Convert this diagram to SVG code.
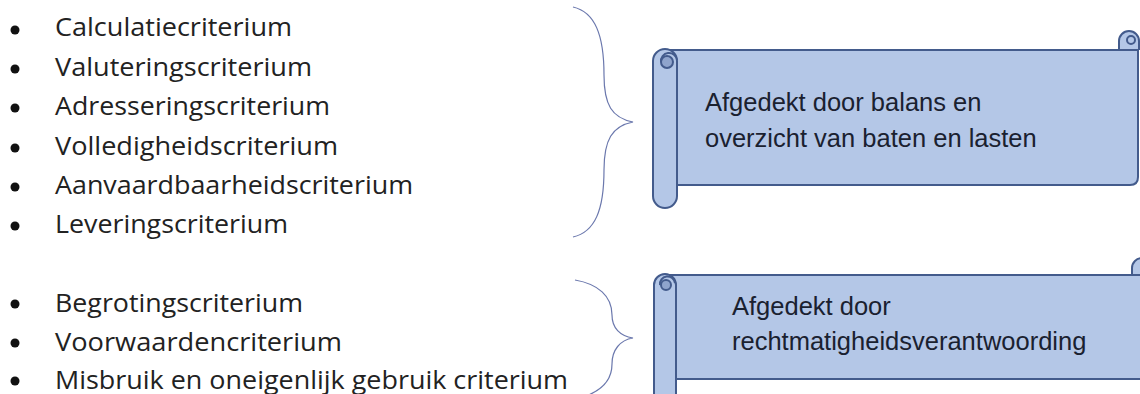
<svg xmlns="http://www.w3.org/2000/svg" width="1140" height="394" viewBox="0 0 1140 394">
<style>
.li{font-family:"Open Sans","Liberation Sans",sans-serif;font-size:25.5px;fill:#222222}
.bul{fill:#111}
.st{font-family:"Liberation Sans",Arial,sans-serif;font-size:25.5px;fill:#1a2130}
.scroll{fill:#b4c7e7;stroke:#435b8c;stroke-width:2;stroke-linejoin:round}
.curl{fill:none;stroke:#435b8c;stroke-width:2}
.brace{fill:none;stroke:#6b78ad;stroke-width:1.2}
</style>
<rect width="1140" height="394" fill="#ffffff"/>

<g id="list-top">
<circle class="bul" cx="15" cy="30" r="4.5"/>
<text class="li" x="55" y="36" textLength="237" lengthAdjust="spacingAndGlyphs">Calculatiecriterium</text>
<circle class="bul" cx="15" cy="69" r="4.5"/>
<text class="li" x="55" y="75.5" textLength="257" lengthAdjust="spacingAndGlyphs">Valuteringscriterium</text>
<circle class="bul" cx="15" cy="108" r="4.5"/>
<text class="li" x="55" y="115" textLength="275" lengthAdjust="spacingAndGlyphs">Adresseringscriterium</text>
<circle class="bul" cx="15" cy="148" r="4.5"/>
<text class="li" x="55" y="154.5" textLength="283" lengthAdjust="spacingAndGlyphs">Volledigheidscriterium</text>
<circle class="bul" cx="15" cy="187" r="4.5"/>
<text class="li" x="55" y="194" textLength="358" lengthAdjust="spacingAndGlyphs">Aanvaardbaarheidscriterium</text>
<circle class="bul" cx="15" cy="226" r="4.5"/>
<text class="li" x="55" y="233" textLength="233" lengthAdjust="spacingAndGlyphs">Leveringscriterium</text>
</g>

<g id="list-bottom">
<circle class="bul" cx="15" cy="304" r="4.5"/>
<text class="li" x="55" y="312" textLength="248" lengthAdjust="spacingAndGlyphs">Begrotingscriterium</text>
<circle class="bul" cx="15" cy="343" r="4.5"/>
<text class="li" x="55" y="351" textLength="287" lengthAdjust="spacingAndGlyphs">Voorwaardencriterium</text>
<circle class="bul" cx="15" cy="381" r="4.5"/>
<text class="li" x="55" y="389" textLength="513" lengthAdjust="spacingAndGlyphs">Misbruik en oneigenlijk gebruik criterium</text>
</g>

<g id="connectors">
<path class="brace" d="M573,7 C595,12 604,35 604,75 C604,105 612,118 633,122 C612,126 604,140 604,170 C604,210 595,232 573,237"/>
<path class="brace" d="M575,280 C598,284 612,296 612,315 C612,328 620,336 633,338 C620,340 612,350 612,364 C612,380 602,390 586,396"/>
</g>

<g id="scroll-top">
<path class="scroll" d="M1119,50 V41 A10,10 0 0 1 1139,41 V50"/>
<circle class="curl" cx="1131" cy="40" r="4"/>
<path class="scroll" d="M664,50 H1138 V177 Q1138,185 1130,185 H664 Z"/>
<rect class="scroll" x="653" y="49" width="24" height="159" rx="12"/>
<circle cx="667" cy="62" r="6" fill="#8fa4cc" stroke="#435b8c" stroke-width="2"/>
<path class="curl" d="M661,62 A8,8 0 0 1 677,60"/>
<text class="st" x="705" y="111">Afgedekt door balans en</text>
<text class="st" x="705" y="147">overzicht van baten en lasten</text>
</g>

<g id="scroll-bottom">
<path class="scroll" d="M1132,275 V268 A10,10 0 0 1 1152,268 V275"/>
<path class="scroll" d="M664,275 H1150 V379 H664 Z"/>
<rect class="scroll" x="654" y="274" width="22" height="140" rx="11"/>
<circle cx="666" cy="285" r="5" fill="#8fa4cc" stroke="#435b8c" stroke-width="2"/>
<path class="curl" d="M660,285 A7,7 0 0 1 675,283"/>
<text class="st" x="732" y="315">Afgedekt door</text>
<text class="st" x="732" y="350">rechtmatigheidsverantwoording</text>
</g>
</svg>
